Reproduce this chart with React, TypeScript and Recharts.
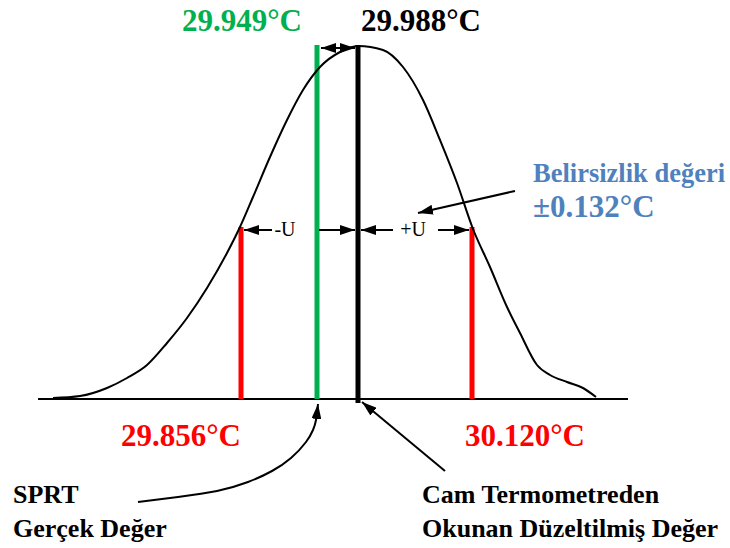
import React from "react";
import { ComposedChart, Line, Scatter, XAxis, YAxis, ReferenceLine } from "recharts";

// bell curve: position along the axis / height above the axis
const curveX = [53, 80, 107, 127, 147, 167, 187, 207, 227, 240, 253, 270, 287, 303, 320, 340, 358, 383, 403, 423, 440, 457, 473, 490, 507, 520, 537, 550, 567, 583, 596];
const curveH = [1, 3, 11, 21, 34, 56, 81, 111, 146, 172, 202, 242, 279, 309, 332, 347, 353, 349, 332, 299, 259, 216, 170, 132, 92, 66, 34, 24, 17, 11, 2];

// curved pointer from "SPRT" up to the green line
const sprtX = [138, 178, 217, 248, 272, 291, 306, 313, 316, 318];
const sprtH = [-103, -98, -92, -83, -72, -59, -43, -31, -21, -5];

// the four vertical markers
const markerLabels = ["29.856°C", "29.949°C", "29.988°C", "30.120°C"];
const markerPos = [241, 317, 358, 472];
const markerTop = [172, 354, 354, 172];
const markerBottom = [0, 0, -4, 0];

const uncertainty = "±0.132°C";

const RED = "#FF0000";
const GREEN = "#00B050";
const BLUE = "#4F81BD";
const FONT = "'Liberation Serif', 'Times New Roman', serif";

const curve = curveX.map((x, i) => ({ x, h: curveH[i] }));
const sprtPath = sprtX.map((x, i) => ({ x, h: sprtH[i] }));

// straight arrows: [x1, h1, x2, h2, double headed]
const arrows: [number, number, number, number, boolean][] = [
  [321, 351, 355, 351, true],
  [272, 169, 244, 169, false],
  [319, 169, 355, 169, false],
  [393, 169, 361, 169, false],
  [438, 169, 469, 169, false],
  [515, 208, 418, 186, false],
  [445, -72, 362, -3, false],
];

const markerColors = [RED, GREEN, "#000", RED];

const texts = [
  { text: markerLabels[1], x: 242, h: 368, color: GREEN, size: 31, weight: 700, anchor: "middle" },
  { text: markerLabels[2], x: 421, h: 368, color: "#000", size: 31, weight: 700, anchor: "middle" },
  { text: markerLabels[0], x: 181, h: -47, color: RED, size: 31, weight: 700, anchor: "middle" },
  { text: markerLabels[3], x: 525, h: -47, color: RED, size: 31, weight: 700, anchor: "middle" },
  { text: "Belirsizlik değeri", x: 533, h: 217, color: BLUE, size: 26.5, weight: 700, anchor: "start" },
  { text: uncertainty, x: 533, h: 182, color: BLUE, size: 31, weight: 700, anchor: "start" },
  { text: "-U", x: 285, h: 163, color: "#000", size: 20, weight: 400, anchor: "middle" },
  { text: "+U", x: 413, h: 163, color: "#000", size: 20, weight: 400, anchor: "middle" },
  { text: "SPRT", x: 13, h: -104, color: "#000", size: 26, weight: 700, anchor: "start" },
  { text: "Gerçek Değer", x: 13, h: -138, color: "#000", size: 26, weight: 700, anchor: "start" },
  { text: "Cam Termometreden", x: 422, h: -104, color: "#000", size: 26, weight: 700, anchor: "start" },
  { text: "Okunan Düzeltilmiş Değer", x: 422, h: -138, color: "#000", size: 26, weight: 700, anchor: "start" },
];

const TextShape = (p: any) => {
  const d = p.payload;
  return (
    <text x={p.cx} y={p.cy} textAnchor={d.anchor} fill={d.color} fontSize={d.size} fontWeight={d.weight} fontFamily={FONT}>
      {d.text}
    </text>
  );
};

export default function App() {
  return (
    <div style={{ position: "absolute", left: 0, top: 0, background: "#fff" }}>
      <ComposedChart width={730} height={548} margin={{ top: 0, right: 0, bottom: 0, left: 0 }}>
        <defs>
          <marker id="head" viewBox="0 0 15 10" markerWidth={15} markerHeight={10} refX={15} refY={5} orient="auto-start-reverse" markerUnits="userSpaceOnUse">
            <path d="M0,0L15,5L0,10Z" fill="#000" />
          </marker>
        </defs>
        <XAxis type="number" dataKey="x" domain={[0, 730]} hide />
        <YAxis type="number" domain={[-149, 399]} hide />

        <ReferenceLine segment={[{ x: 38, y: 0 }, { x: 628, y: 0 }]} stroke="#000" strokeWidth={2} />

        {markerPos.map((x, i) => (
          <ReferenceLine
            key={i}
            segment={[{ x, y: markerBottom[i] }, { x, y: markerTop[i] }]}
            stroke={markerColors[i]}
            strokeWidth={5}
          />
        ))}

        <Line data={curve} dataKey="h" type="monotone" stroke="#000" strokeWidth={2} dot={false} isAnimationActive={false} />
        <Line data={sprtPath} dataKey="h" type="natural" stroke="#000" strokeWidth={2} dot={false} markerEnd="url(#head)" isAnimationActive={false} />

        {arrows.map(([x1, h1, x2, h2, both], i) => (
          <Line
            key={"a" + i}
            data={[{ x: x1, h: h1 }, { x: x2, h: h2 }]}
            dataKey="h"
            type="linear"
            stroke="#000"
            strokeWidth={2}
            dot={false}
            markerEnd="url(#head)"
            markerStart={both ? "url(#head)" : undefined}
            isAnimationActive={false}
          />
        ))}

        <Scatter data={texts} dataKey="h" shape={TextShape} isAnimationActive={false} />
      </ComposedChart>
    </div>
  );
}
